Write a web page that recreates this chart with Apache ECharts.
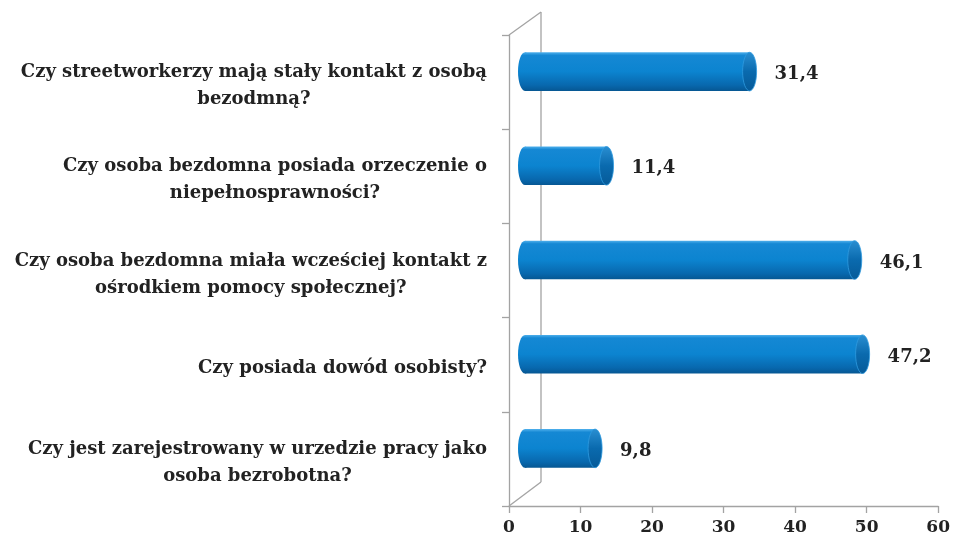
<!DOCTYPE html>
<html>
<head>
<meta charset="utf-8">
<script src="https://cdn.jsdelivr.net/npm/echarts@6/dist/echarts.min.js"></script>
<style>
  html, body { margin: 0; padding: 0; background: #fff; }
  #chart { width: 953px; height: 545px; }
</style>
</head>
<body>
<div id="chart"></div>
<script>
// survey questions, top to bottom
const questions = [
  'Czy streetworkerzy mają stały kontakt z osobą\nbezodmną?',
  'Czy osoba bezdomna posiada orzeczenie o\nniepełnosprawności?',
  'Czy osoba bezdomna miała wcześciej kontakt z\nośrodkiem pomocy społecznej?',
  'Czy posiada dowód osobisty?',
  'Czy jest zarejestrowany w urzedzie pracy jako\nosoba bezrobotna?'
];
const percents = [31.4, 11.4, 46.1, 47.2, 9.8];
const xMin = 0, xMax = 60, xStep = 10;

const FONT = '"DejaVu Serif", "Liberation Serif", serif';
const WALL = '#a3a3a3';
const DEPTH = [32, -23];

const bodyFill = new echarts.graphic.LinearGradient(0, 0, 0, 1, [
  { offset: 0, color: '#4fb0ec' },
  { offset: 0.08, color: '#1588d4' },
  { offset: 0.5, color: '#0c84d0' },
  { offset: 0.85, color: '#0868ae' },
  { offset: 1, color: '#065793' }
]);
const capFill = new echarts.graphic.LinearGradient(0, 0, 0, 1, [
  { offset: 0, color: '#2a8fd2' },
  { offset: 0.5, color: '#0a6aae' },
  { offset: 1, color: '#065a98' }
]);

function fmt(v) {
  return v.toFixed(1).replace('.', ',');
}

function renderWall(params, api) {
  const cs = params.coordSys;
  const x0 = api.coord([xMin, 0])[0];
  const top = cs.y, bottom = cs.y + cs.height;
  const line = (a, b) => ({
    type: 'line',
    shape: { x1: a[0], y1: a[1], x2: b[0], y2: b[1] },
    style: { stroke: WALL, lineWidth: 1.3 }
  });
  return {
    type: 'group',
    silent: true,
    children: [
      line([x0, top], [x0 + DEPTH[0], top + DEPTH[1]]),
      line([x0 + DEPTH[0], top + DEPTH[1]], [x0 + DEPTH[0], bottom + DEPTH[1] - 1]),
      line([x0, bottom], [x0 + DEPTH[0], bottom + DEPTH[1] - 1])
    ]
  };
}

function renderBar(params, api) {
  const idx = api.value(1);
  const val = api.value(0);
  const start = api.coord([0, idx]);
  const end = api.coord([val, idx]);
  const band = api.size([0, 1])[1];
  const h = band * 0.41;
  const cy = start[1] + DEPTH[1] / 2 + 1;
  const x0 = start[0] + DEPTH[0] / 2;
  const x1 = end[0] + DEPTH[0] / 2;
  const rx = 7, ry = h / 2;
  return {
    type: 'group',
    children: [
      { type: 'ellipse', shape: { cx: x0, cy: cy, rx: rx, ry: ry }, style: { fill: bodyFill } },
      { type: 'rect', shape: { x: x0, y: cy - ry, width: x1 - x0, height: h }, style: { fill: bodyFill } },
      { type: 'ellipse', shape: { cx: x1, cy: cy, rx: rx, ry: ry }, style: { fill: capFill, stroke: '#2f9be0', lineWidth: 0.8 } },
      {
        type: 'text',
        style: {
          text: fmt(val), x: x1 + rx + 18, y: cy + 3,
          verticalAlign: 'middle', font: 'bold 18px ' + FONT, fill: '#222'
        }
      }
    ]
  };
}

const chart = echarts.init(document.getElementById('chart'));
chart.setOption({
  animation: false,
  grid: { left: 509, right: 13, top: 35, bottom: 39 },
  xAxis: {
    type: 'value',
    min: xMin, max: xMax, interval: xStep,
    axisLine: { show: true, lineStyle: { color: WALL, width: 1.3 } },
    axisTick: { show: true, length: 7, lineStyle: { color: WALL, width: 1.3 } },
    splitLine: { show: false },
    axisLabel: { margin: 13, color: '#222', fontFamily: FONT, fontSize: 17, fontWeight: 'bold' }
  },
  yAxis: {
    type: 'category',
    inverse: true,
    data: questions,
    axisLine: { show: true, lineStyle: { color: WALL, width: 1.3 } },
    axisTick: { show: true, length: 7, lineStyle: { color: WALL, width: 1.3 } },
    axisLabel: {
      margin: 22,
      align: 'right',
      color: '#222',
      padding: [8, 0, 0, 0],
      formatter: v => v.split('\n').map(s => '{c|' + s + '}').join('\n'),
      rich: {
        c: { align: 'center', fontFamily: FONT, fontSize: 18, fontWeight: 'bold', lineHeight: 27, color: '#222' }
      }
    }
  },
  series: [
    {
      type: 'custom',
      renderItem: renderWall,
      data: [[0, 0]],
      z: 1
    },
    {
      type: 'custom',
      renderItem: renderBar,
      encode: { x: 0, y: 1 },
      data: percents.map((v, i) => [v, i]),
      z: 2
    }
  ]
});
</script>
</body>
</html>
